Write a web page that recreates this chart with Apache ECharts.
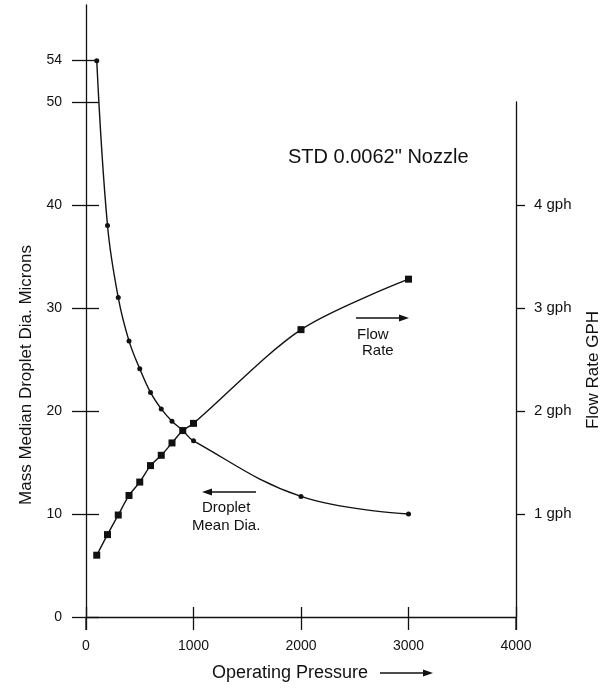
<!DOCTYPE html>
<html><head><meta charset="utf-8">
<script src="https://cdn.jsdelivr.net/npm/echarts@6/dist/echarts.min.js"></script>
<style>html,body{margin:0;padding:0;background:#fff}#c{width:612px;height:688px}</style>
</head><body><div id="c"></div>
<script>
// Data
const pressure   = [100, 200, 300, 400, 500, 600, 700, 800, 900, 1000, 2000, 3000];
const dropletDia = [54, 38, 31, 26.8, 24.1, 21.8, 20.2, 19.0, 18.1, 17.1, 11.7, 10.0];
const flowRate   = [0.60, 0.80, 0.99, 1.18, 1.31, 1.47, 1.57, 1.69, 1.81, 1.88, 2.79, 3.28];
const leftTicks  = [0, 10, 20, 30, 40, 50, 54];
const rightTicks = [1, 2, 3, 4];

const FONT = '"Liberation Sans", Arial, sans-serif';
const INK = '#111';
const L = 86, R = 96, B = 71, TOP0 = 5, TOP1 = 102;

const chart = echarts.init(document.getElementById('c'), null, {renderer: 'canvas'});

const axisLineStyle = {color: INK, width: 1.3};

const option = {
  backgroundColor: '#fff',
  animation: false,
  grid: [
    {left: L, right: R, top: TOP0, bottom: B},
    {left: L, right: R, top: TOP1, bottom: B}
  ],
  xAxis: [
    {gridIndex: 0, type: 'value', min: 0, max: 4000, interval: 1000, position: 'bottom',
     axisLine: {show: true, onZero: false, lineStyle: axisLineStyle},
     axisTick: {show: true, inside: false, length: 13, lineStyle: axisLineStyle},
     axisLabel: {show: true, margin: 22, color: INK, fontSize: 14, fontFamily: FONT,
                 formatter: v => String(v)},
     splitLine: {show: false}},
    {gridIndex: 1, type: 'value', min: 0, max: 4000, show: false},
    {gridIndex: 0, type: 'value', min: 0, max: 4000, interval: 1000, position: 'bottom',
     axisLine: {show: false, onZero: false},
     axisTick: {show: true, inside: true, length: 10, lineStyle: axisLineStyle},
     axisLabel: {show: false}, splitLine: {show: false}}
  ],
  yAxis: [
    {gridIndex: 0, type: 'value', min: 0, max: 59.4, position: 'left',
     axisLine: {show: true, onZero: false, lineStyle: axisLineStyle},
     axisTick: {show: true, inside: false, length: 14, customValues: leftTicks, lineStyle: axisLineStyle},
     axisLabel: {show: true, margin: 24, customValues: leftTicks, color: INK, fontSize: 14, fontFamily: FONT},
     splitLine: {show: false}},
    {gridIndex: 1, type: 'value', min: 0, max: 5, position: 'right',
     axisLine: {show: true, onZero: false, lineStyle: axisLineStyle},
     axisTick: {show: true, inside: false, length: 9, customValues: rightTicks, lineStyle: axisLineStyle},
     axisLabel: {show: true, margin: 18, customValues: rightTicks, color: INK, fontSize: 15, fontFamily: FONT,
                 formatter: v => v + ' gph'},
     splitLine: {show: false}},
    {gridIndex: 0, type: 'value', min: 0, max: 59.4, position: 'left',
     axisLine: {show: false, onZero: false},
     axisTick: {show: true, inside: true, length: 13, customValues: leftTicks, lineStyle: axisLineStyle},
     axisLabel: {show: false}, splitLine: {show: false}}
  ],
  series: [
    {name: 'Droplet Mean Dia.', type: 'line', xAxisIndex: 0, yAxisIndex: 0,
     data: pressure.map((p, i) => [p, dropletDia[i]]),
     smooth: 0.4, symbol: 'circle', symbolSize: 5, showSymbol: true,
     lineStyle: {color: INK, width: 1.4}, itemStyle: {color: INK, borderWidth: 0}, z: 3},
    {name: 'Flow Rate', type: 'line', xAxisIndex: 1, yAxisIndex: 1,
     data: pressure.map((p, i) => [p, flowRate[i]]),
     smooth: 0.3, symbol: 'rect', symbolSize: 7, showSymbol: true,
     lineStyle: {color: INK, width: 1.4}, itemStyle: {color: INK, borderWidth: 0}, z: 4}
  ]
};
chart.setOption(option);

// Decorations: extensions of axes below the x axis, annotations and arrows
const p0 = chart.convertToPixel({xAxisIndex: 0, yAxisIndex: 0}, [0, 0]);
const p4 = chart.convertToPixel({xAxisIndex: 0, yAxisIndex: 0}, [4000, 0]);

function arrow(x1, x2, y) {
  const dir = x2 > x1 ? 1 : -1;
  return [
    {type: 'line', shape: {x1: x1, y1: y, x2: x2 - dir * 6, y2: y}, style: {stroke: INK, lineWidth: 1.6}},
    {type: 'polygon', shape: {points: [[x2, y], [x2 - dir * 10, y - 3.5], [x2 - dir * 10, y + 3.5]]}, style: {fill: INK}}
  ];
}
function txt(x, y, s, size, align) {
  return {type: 'text', x: x, y: y, style: {text: s, fill: INK, font: size + 'px ' + FONT,
          textAlign: align || 'left', textVerticalAlign: 'middle'}};
}

chart.setOption({
  graphic: [
    {type: 'line', shape: {x1: p0[0], y1: p0[1], x2: p0[0], y2: p0[1] + 13}, style: {stroke: INK, lineWidth: 1.3}},
    {type: 'line', shape: {x1: p4[0], y1: p4[1], x2: p4[0], y2: p4[1] + 13}, style: {stroke: INK, lineWidth: 1.3}},
    txt(288, 157, 'STD 0.0062" Nozzle', 20),
    txt(357, 335, 'Flow', 15),
    txt(362, 351, 'Rate', 15),
    ...arrow(356, 409, 318),
    txt(202, 508, 'Droplet', 15),
    txt(192, 526, 'Mean Dia.', 15),
    ...arrow(256, 202, 492),
    txt(212, 673, 'Operating Pressure', 18),
    ...arrow(380, 433, 673),
    {type: 'text', x: 26, y: 375, rotation: Math.PI / 2,
     style: {text: 'Mass Median Droplet Dia. Microns', fill: INK, font: '17px ' + FONT, textAlign: 'center', textVerticalAlign: 'middle'}},
    {type: 'text', x: 593, y: 370, rotation: Math.PI / 2,
     style: {text: 'Flow Rate GPH', fill: INK, font: '17px ' + FONT, textAlign: 'center', textVerticalAlign: 'middle'}}
  ]
});
</script>
</body></html>
